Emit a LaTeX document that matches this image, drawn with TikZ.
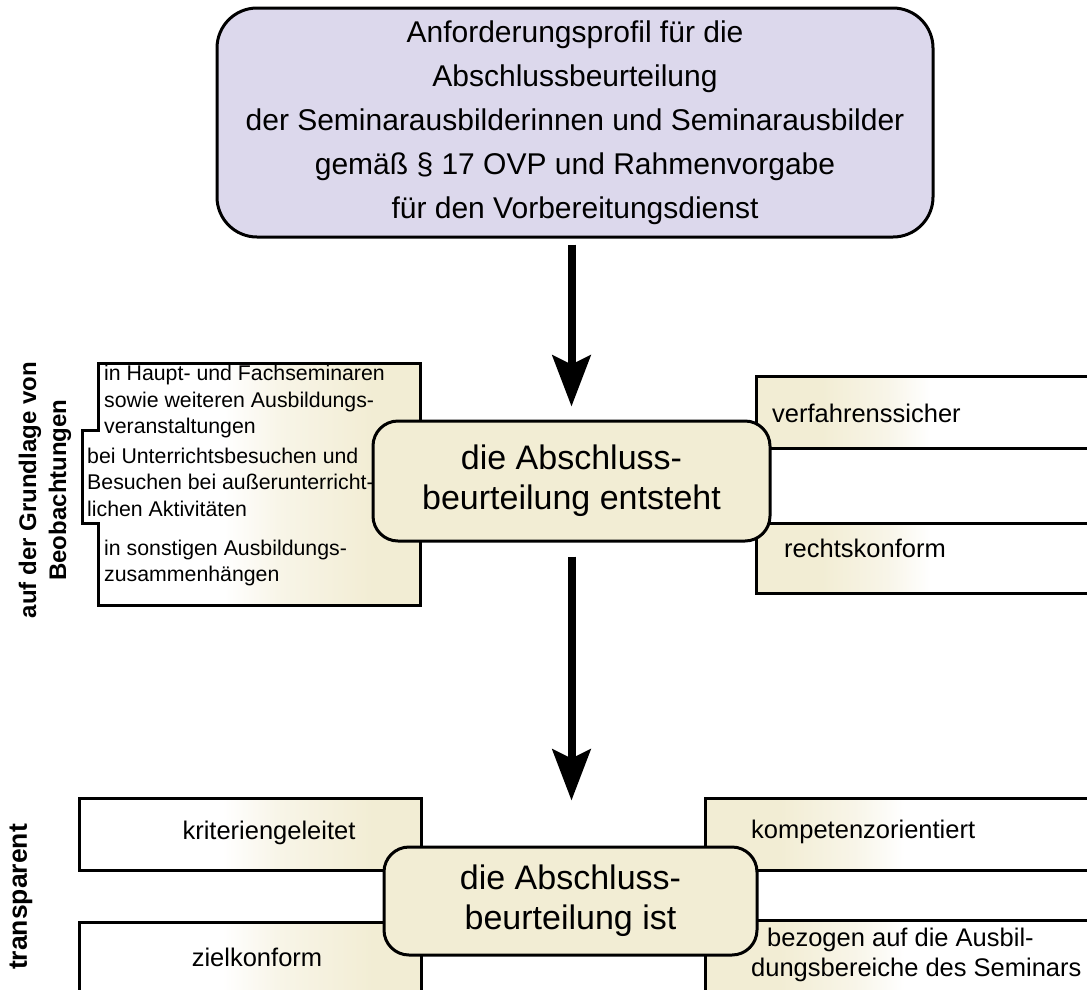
\documentclass[tikz,border=0pt]{standalone}
\usepackage{fontspec}
\setmainfont{Liberation Sans}
\usetikzlibrary{arrows.meta}
\definecolor{lav}{HTML}{DCD8EC}
\definecolor{cream}{HTML}{F2EDD4}
\definecolor{creamL}{HTML}{F8F5E8}
\pgfdeclarehorizontalshading{fadeR}{100bp}{color(0bp)=(white); color(46bp)=(white); color(54bp)=(creamL); color(68bp)=(cream); color(100bp)=(cream)}
\pgfdeclarehorizontalshading{fadeL}{100bp}{color(0bp)=(cream); color(34bp)=(cream); color(43bp)=(creamL); color(49bp)=(white); color(100bp)=(white)}
\begin{document}
\begin{tikzpicture}[x=1pt,y=-1pt,
  topbox/.style={draw, line width=3pt, fill=lav, rounded corners=40pt, minimum width=716pt, minimum height=229pt, align=center, inner sep=0pt, font=\fontsize{30}{44}\selectfont},
  ctrbox/.style={draw, line width=3pt, fill=cream, rounded corners=25pt, align=center, inner sep=0pt, font=\fontsize{34}{40}\selectfont},
  sidebox/.style={draw, line width=3pt, shade, shading=#1},
  lefttxt/.style={anchor=west, align=left, inner sep=0pt, font=\fontsize{21.3}{26.5}\selectfont},
  sidetxt/.style={inner sep=0pt, align=left, font=\fontsize{25.5}{30}\selectfont},
  rotlbl/.style={rotate=90, align=center, inner sep=0pt, font=\bfseries\fontsize{24}{30}\selectfont},
  bigarrow/.style={line width=8pt, -{Stealth[length=51pt, width=38pt, inset=9pt]}}
]
\useasboundingbox (0,0) rectangle (1087,989);
\clip (0,0) rectangle (1087,989);

% left observation box
\path[sidebox=fadeR] (98,363) -- (420,363) -- (420,605) -- (98,605) -- (98,523) -- (82,523) -- (82,430) -- (98,430) -- cycle;
\node[lefttxt] (l1) at (104,401.5) {in Haupt- und Fachseminaren\\sowie weiteren Ausbildungs-\\veranstaltungen};
\node[lefttxt] (l2) at (87,482) {bei Unterrichtsbesuchen und\\Besuchen bei außerunterricht-\\lichen Aktivitäten};
\node[lefttxt] (l3) at (104,563) {in sonstigen Ausbildungs-\\zusammenhängen};
\node[rotlbl] (obs) at (45,490) {auf der Grundlage von\\Beobachtungen};

% right boxes (middle row)
\path[sidebox=fadeL] (756,376) rectangle (1120,448);
\path[sidebox=fadeL] (756,523) rectangle (1120,593);
\node[sidetxt, anchor=west] (vs) at (772,413) {verfahrenssicher};
\node[sidetxt, anchor=west] (rk) at (784,548) {rechtskonform};

% bottom side boxes
\path[sidebox=fadeR] (79,798) rectangle (421,870);
\path[sidebox=fadeR] (79,922) rectangle (421,1030);
\path[sidebox=fadeL] (705,798) rectangle (1120,870);
\path[sidebox=fadeL] (705,920) rectangle (1120,1030);
\node[sidetxt] (kg) at (269,833) {kriteriengeleitet};
\node[sidetxt] (zk) at (257,957) {zielkonform};
\node[sidetxt, anchor=west] (ko) at (751,832) {kompetenzorientiert};
\node[sidetxt, anchor=west] (bz) at (751,955) {\hspace*{16pt}bezogen auf die Ausbil-\\dungsbereiche des Seminars};
\node[rotlbl, font=\bfseries\fontsize{26.5}{30}\selectfont] (tr) at (21,897) {transparent};

% central nodes
\node[topbox] (top) at (575,122.5) {Anforderungsprofil für die\\Abschlussbeurteilung\\der Seminarausbilderinnen und Seminarausbilder\\gemäß § 17 OVP und Rahmenvorgabe\\für den Vorbereitungsdienst};
\node[ctrbox, minimum width=397pt, minimum height=120pt] (mid) at (571.5,481) {die Abschluss-\\beurteilung entsteht};
\node[ctrbox, minimum width=373pt, minimum height=108pt] (bot) at (570.5,901) {die Abschluss-\\beurteilung ist};

% arrows
\draw[bigarrow, shorten <=6pt, shorten >=13pt] (top.south -| mid.north) -- (mid.north);
\draw[bigarrow, shorten <=14pt, shorten >=45pt] (mid.south) -- (mid.south |- bot.north);
\end{tikzpicture}
\end{document}
